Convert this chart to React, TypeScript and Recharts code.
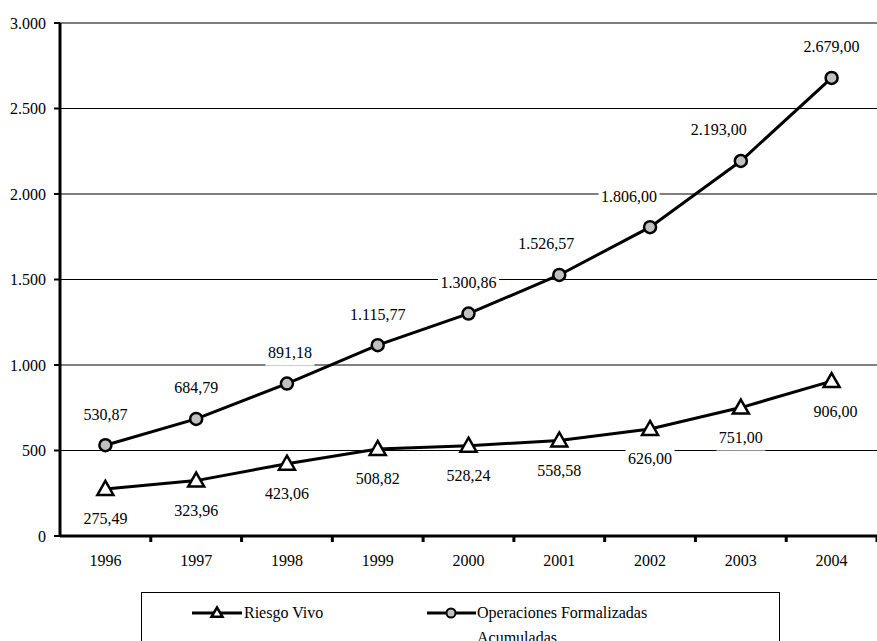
import React from "react";
import { LineChart, Line, XAxis, YAxis, CartesianGrid, LabelList } from "recharts";

const years = ["1996", "1997", "1998", "1999", "2000", "2001", "2002", "2003", "2004"];
const riesgoVivo = [275.49, 323.96, 423.06, 508.82, 528.24, 558.58, 626.0, 751.0, 906.0];
const operaciones = [530.87, 684.79, 891.18, 1115.77, 1300.86, 1526.57, 1806.0, 2193.0, 2679.0];
const yTicks = [0, 500, 1000, 1500, 2000, 2500, 3000];

const data = years.map((year, i) => ({
  year,
  riesgo: riesgoVivo[i],
  ops: operaciones[i],
}));

const W = 877;
const H = 641;
const LEFT = 60;
const BAND = (W - LEFT) / years.length;
const FONT = "'Liberation Serif', 'Times New Roman', serif";

// manual label nudges, as in the original spreadsheet chart
const OPS_LABEL_DX = [0, 0, 3, 0, 0, -13, -21, -22, 0];
const RIESGO_LABEL_DX = [0, 0, 0, 0, 0, 0, 0, 0, 4];

function thousands(s: string): string {
  return s.replace(/\B(?=(\d{3})+(?!\d))/g, ".");
}

function fmtAxis(v: number): string {
  return thousands(String(v));
}

function fmtLabel(v: number): string {
  const [int, dec] = v.toFixed(2).split(".");
  return thousands(int) + "," + dec;
}

function textWidth(s: string, size: number): number {
  let w = 0;
  for (const ch of s) w += ch === "." || ch === "," ? 0.25 : 0.5;
  return w * size;
}

function makeLabel(offset: number, shifts: number[]) {
  return (props: any) => {
    const { x, y, value, index } = props;
    const text = fmtLabel(Number(value));
    const w = textWidth(text, 16) + 5;
    const cx = x + (shifts[index] || 0);
    const cy = y + offset;
    return (
      <g>
        <rect x={cx - w / 2} y={cy - 12} width={w} height={25} fill="#fff" />
        <text x={cx} y={cy + 5.5} textAnchor="middle" fontFamily={FONT} fontSize={16} fill="#000">
          {text}
        </text>
      </g>
    );
  };
}

function Triangle({ cx, cy, size = 8 }: { cx: number; cy: number; size?: number }) {
  const h = size * 0.875;
  return (
    <path
      d={`M${cx},${cy - size} L${cx + size},${cy + h - 1} L${cx - size},${cy + h - 1} Z`}
      fill="#fff"
      stroke="#000"
      strokeWidth={2.5}
      strokeLinejoin="miter"
    />
  );
}

function XTick(props: any) {
  const { x, y, payload } = props;
  return (
    <g>
      <line x1={x + BAND / 2} x2={x + BAND / 2} y1={y} y2={y + 6} stroke="#000" strokeWidth={3} />
      <text x={x} y={y + 30} textAnchor="middle" fontFamily={FONT} fontSize={16} fill="#000">
        {payload.value}
      </text>
    </g>
  );
}

export default function App() {
  return (
    <div style={{ position: "absolute", left: 0, top: 0, width: W, height: H, background: "#fff", overflow: "hidden" }}>
      <LineChart width={W} height={H} data={data} margin={{ top: 23, right: 0, left: 0, bottom: 75 }}>
        <CartesianGrid stroke="#000" strokeWidth={1} vertical={false} />
        <XAxis
          dataKey="year"
          height={30}
          padding={{ left: BAND / 2, right: BAND / 2 }}
          axisLine={{ stroke: "#000", strokeWidth: 3 }}
          tickLine={false}
          tickSize={0}
          tickMargin={0}
          interval={0}
          tick={<XTick />}
        />
        <YAxis
          width={LEFT}
          domain={[0, 3000]}
          ticks={yTicks}
          tickFormatter={fmtAxis}
          axisLine={{ stroke: "#000", strokeWidth: 3 }}
          tickLine={{ stroke: "#000", strokeWidth: 2 }}
          tickSize={6}
          tickMargin={8}
          tick={{ fill: "#000", fontSize: 16, fontFamily: FONT }}
        />
        <Line
          dataKey="riesgo"
          stroke="#000"
          strokeWidth={3}
          isAnimationActive={false}
          dot={(p: any) => <Triangle key={p.index} cx={p.cx} cy={p.cy} />}
        >
          <LabelList dataKey="riesgo" content={makeLabel(30, RIESGO_LABEL_DX)} />
        </Line>
        <Line
          dataKey="ops"
          stroke="#000"
          strokeWidth={3}
          isAnimationActive={false}
          dot={(p: any) => (
            <circle key={p.index} cx={p.cx} cy={p.cy} r={6} fill="#C0C0C0" stroke="#000" strokeWidth={2.5} />
          )}
        >
          <LabelList dataKey="ops" content={makeLabel(-31, OPS_LABEL_DX)} />
        </Line>
      </LineChart>
      <div
        style={{
          position: "absolute",
          left: 141,
          top: 592,
          width: 637,
          height: 70,
          border: "1px solid #000",
          fontFamily: FONT,
          fontSize: 16,
          lineHeight: "25px",
          color: "#000",
        }}
      >
        <svg style={{ position: "absolute", left: 50, top: 10 }} width={52} height={20}>
          <line x1={0} x2={50} y1={10} y2={10} stroke="#000" strokeWidth={3} />
          <Triangle cx={25} cy={10} size={5.5} />
        </svg>
        <span style={{ position: "absolute", left: 102, top: 7, whiteSpace: "nowrap" }}>Riesgo Vivo</span>
        <svg style={{ position: "absolute", left: 285, top: 10 }} width={52} height={20}>
          <line x1={0} x2={49} y1={10} y2={10} stroke="#000" strokeWidth={3} />
          <circle cx={24} cy={10} r={4.5} fill="#C0C0C0" stroke="#000" strokeWidth={2} />
        </svg>
        <span style={{ position: "absolute", left: 335, top: 7, width: 240 }}>
          Operaciones Formalizadas
          <br />
          Acumuladas
        </span>
      </div>
    </div>
  );
}
